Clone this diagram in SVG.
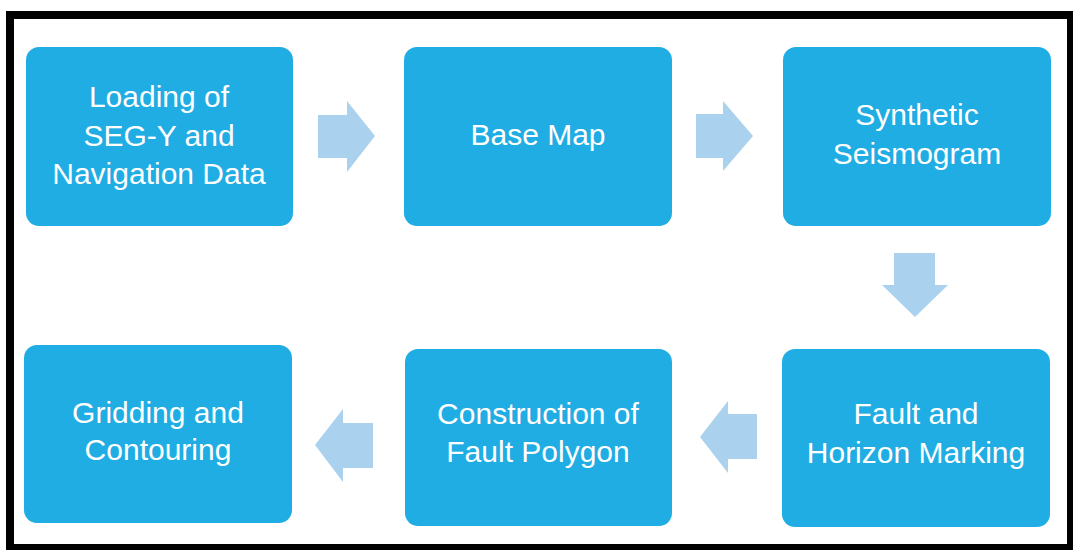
<svg xmlns="http://www.w3.org/2000/svg" width="1073" height="550" viewBox="0 0 1073 550">
  <style>
    .box { fill: #1fade3; }
    .arrow { fill: #aad2ee; }
    .lbl { font-family: "Liberation Sans", Arial, sans-serif; font-size: 30px; fill: #ffffff; text-anchor: middle; }
  </style>
  <rect x="0" y="0" width="1073" height="550" fill="#ffffff"/>
  <rect x="10" y="15" width="1061" height="533" fill="#ffffff" stroke="#000000" stroke-width="8"/>

  <g id="connectors">
    <polygon class="arrow" points="318,115 347,115 347,101 375,136 347,172 347,158 318,158"/>
    <polygon class="arrow" points="696,114 723,114 723,101 753,136 723,171 723,158 696,158"/>
    <polygon class="arrow" points="894,253 935,253 935,285 948,285 915,317 882,285 894,285"/>
    <polygon class="arrow" points="757,414 728,414 728,401 700,437 728,473 728,459 757,459"/>
    <polygon class="arrow" points="373,423 343,423 343,409 315,445 343,482 343,468 373,468"/>
  </g>

  <g id="node-loading">
    <rect class="box" x="26" y="47" width="267" height="179" rx="13"/>
    <text class="lbl" x="159" y="107">Loading of</text>
    <text class="lbl" x="159" y="146">SEG-Y and</text>
    <text class="lbl" x="159" y="184">Navigation Data</text>
  </g>
  <g id="node-basemap">
    <rect class="box" x="404" y="47" width="268" height="179" rx="13"/>
    <text class="lbl" x="538" y="145">Base Map</text>
  </g>
  <g id="node-synthetic">
    <rect class="box" x="783" y="47" width="268" height="179" rx="13"/>
    <text class="lbl" x="917" y="125">Synthetic</text>
    <text class="lbl" x="917" y="164">Seismogram</text>
  </g>
  <g id="node-fault-horizon">
    <rect class="box" x="782" y="349" width="268" height="178" rx="13"/>
    <text class="lbl" x="916" y="424">Fault and</text>
    <text class="lbl" x="916" y="463">Horizon Marking</text>
  </g>
  <g id="node-fault-polygon">
    <rect class="box" x="405" y="349" width="267" height="177" rx="13"/>
    <text class="lbl" x="538" y="424">Construction of</text>
    <text class="lbl" x="538" y="462">Fault Polygon</text>
  </g>
  <g id="node-gridding">
    <rect class="box" x="24" y="345" width="268" height="178" rx="13"/>
    <text class="lbl" x="158" y="423">Gridding and</text>
    <text class="lbl" x="158" y="460">Contouring</text>
  </g>
</svg>
